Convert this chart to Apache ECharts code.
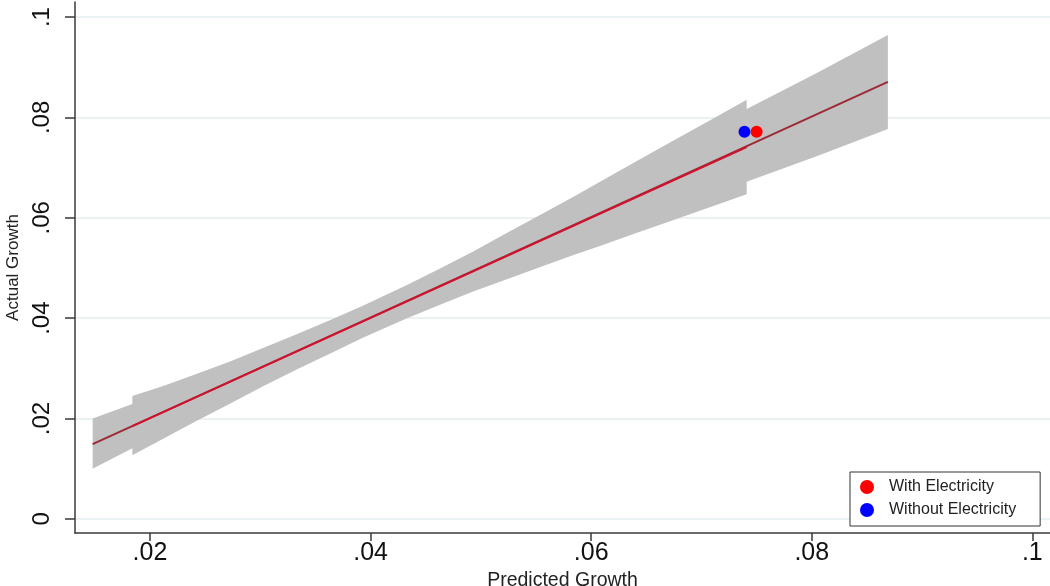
<!DOCTYPE html>
<html>
<head>
<meta charset="utf-8">
<script src="https://cdn.jsdelivr.net/npm/echarts@6/dist/echarts.min.js"></script>
<style>
html,body{margin:0;padding:0;background:#fff;}
#chart{width:1050px;height:586px;}
</style>
</head>
<body>
<div id="chart"></div>
<script>
// Tick values
var xTicks = [0.02, 0.04, 0.06, 0.08, 0.1];
var yTicks = [0, 0.02, 0.04, 0.06, 0.08, 0.1];

// Fit line spanning full range (dark red)
var fullLineX = [0.0148, 0.0869];
var fullLineY = [0.0149, 0.0871];
// Fit line spanning sub range (red)
var subLineX = [0.0184, 0.0741];
var subLineY = [0.0185, 0.0741];

// CI band of full-range fit (x, lower, upper)
var fullBandX  = [0.0148, 0.0184, 0.0300, 0.0450, 0.0600, 0.0741, 0.0805, 0.0869];
var fullBandLo = [0.0100, 0.0141, 0.0267, 0.0423, 0.0558, 0.0672, 0.0723, 0.0777];
var fullBandHi = [0.0200, 0.0229, 0.0333, 0.0477, 0.0644, 0.0817, 0.0889, 0.0964];

// CI band of sub-range fit (x, lower, upper)
var subBandX  = [0.0184, 0.0212, 0.0242, 0.0272, 0.0303, 0.0333, 0.0363, 0.0393, 0.0433, 0.0463,
                 0.0493, 0.0523, 0.0554, 0.0584, 0.0608, 0.0639, 0.0669, 0.0705, 0.0741];
var subBandLo = [0.0127, 0.0160, 0.0195, 0.0229, 0.0265, 0.0298, 0.0329, 0.0361, 0.0400, 0.0427,
                 0.0453, 0.0477, 0.0502, 0.0526, 0.0544, 0.0568, 0.0591, 0.0619, 0.0647];
var subBandHi = [0.0245, 0.0265, 0.0289, 0.0313, 0.0341, 0.0368, 0.0396, 0.0425, 0.0466, 0.0499,
                 0.0533, 0.0569, 0.0606, 0.0642, 0.0672, 0.0710, 0.0747, 0.0791, 0.0835];

// Points
var withElecX = [0.0750], withElecY = [0.07715];
var withoutElecX = [0.0739], withoutElecY = [0.07715];

var FONT = '"Liberation Sans", Arial, sans-serif';

function zip(a, b) { return a.map(function (v, i) { return [v, b[i]]; }); }
function bandRows(xs, lo, hi) { return xs.map(function (v, i) { return [v, lo[i], hi[i]]; }); }

function bandSeries(rows, z) {
  return {
    type: 'custom',
    z: z,
    silent: true,
    data: rows,
    encode: { x: 0, y: [1, 2] },
    renderItem: function (params, api) {
      if (params.dataIndex !== 0) return null;
      var pts = [];
      var i;
      for (i = 0; i < rows.length; i++) pts.push(api.coord([rows[i][0], rows[i][2]]));
      for (i = rows.length - 1; i >= 0; i--) pts.push(api.coord([rows[i][0], rows[i][1]]));
      return { type: 'polygon', shape: { points: pts }, style: { fill: '#c0c0c0', stroke: null } };
    }
  };
}

function fmt(v) {
  if (Math.abs(v) < 1e-12) return '0';
  return String(+v.toFixed(4)).replace(/^0/, '');
}

var chart = echarts.init(document.getElementById('chart'), null, { renderer: 'canvas' });
chart.setOption({
  animation: false,
  backgroundColor: '#ffffff',
  textStyle: { fontFamily: FONT },
  grid: { left: 75, right: 0, top: 2, bottom: 53, containLabel: false, outerBoundsMode: 'none' },
  xAxis: {
    type: 'value',
    min: 0.0132,
    max: 0.1016,
    name: 'Predicted Growth',
    nameLocation: 'middle',
    nameGap: 33,
    nameTextStyle: { fontFamily: FONT, fontSize: 19.5, color: '#222' },
    axisLine: { show: true, onZero: false, lineStyle: { color: '#3a3a3a', width: 1.5 } },
    axisTick: { show: true, length: 8, customValues: xTicks, lineStyle: { color: '#3a3a3a', width: 1.5 } },
    axisLabel: { customValues: xTicks, formatter: fmt, margin: 8, fontFamily: FONT, fontSize: 25, color: '#111' },
    splitLine: { show: false }
  },
  yAxis: {
    type: 'value',
    min: -0.0028,
    max: 0.1030,
    name: 'Actual Growth',
    nameLocation: 'middle',
    nameGap: 52,
    nameTextStyle: { fontFamily: FONT, fontSize: 17, color: '#222' },
    axisLine: { show: true, onZero: false, lineStyle: { color: '#3a3a3a', width: 1.5 } },
    axisTick: { show: true, length: 10, customValues: yTicks, lineStyle: { color: '#3a3a3a', width: 1.5 } },
    axisLabel: { customValues: yTicks, formatter: fmt, rotate: 90, margin: 21, fontFamily: FONT, fontSize: 24, color: '#111' },
    splitLine: { show: false }
  },
  legend: {
    data: [
      { name: 'With Electricity', icon: 'circle' },
      { name: 'Without Electricity', icon: 'circle' }
    ],
    orient: 'vertical',
    left: 850,
    top: 472,
    itemWidth: 34,
    itemHeight: 14,
    itemGap: 7,
    padding: [7, 24, 8, 10],
    borderColor: '#333',
    borderWidth: 1,
    borderRadius: 0,
    backgroundColor: '#fff',
    selectedMode: false,
    textStyle: { fontFamily: FONT, fontSize: 16, color: '#222' }
  },
  series: [
    {
      type: 'line',
      z: 1,
      data: [],
      silent: true,
      markLine: {
        z: 0,
        silent: true,
        symbol: ['none', 'none'],
        label: { show: false },
        lineStyle: { color: '#eaf2f3', width: 2, type: 'solid' },
        data: yTicks.map(function (v) { return { yAxis: v }; })
      }
    },
    bandSeries(bandRows(fullBandX, fullBandLo, fullBandHi), 2),
    bandSeries(bandRows(subBandX, subBandLo, subBandHi), 2),
    {
      type: 'line', z: 3, silent: true, showSymbol: false, symbol: 'none',
      data: zip(fullLineX, fullLineY),
      lineStyle: { color: '#9c2a35', width: 2 }
    },
    {
      type: 'line', z: 4, silent: true, showSymbol: false, symbol: 'none',
      data: zip(subLineX, subLineY),
      lineStyle: { color: '#d0122e', width: 2 }
    },
    {
      name: 'With Electricity', type: 'scatter', z: 5,
      symbol: 'circle', symbolSize: 12,
      itemStyle: { color: '#ff0000', opacity: 1 },
      data: zip(withElecX, withElecY)
    },
    {
      name: 'Without Electricity', type: 'scatter', z: 6,
      symbol: 'circle', symbolSize: 12,
      itemStyle: { color: '#0000ff', opacity: 1 },
      data: zip(withoutElecX, withoutElecY)
    }
  ]
});
</script>
</body>
</html>
